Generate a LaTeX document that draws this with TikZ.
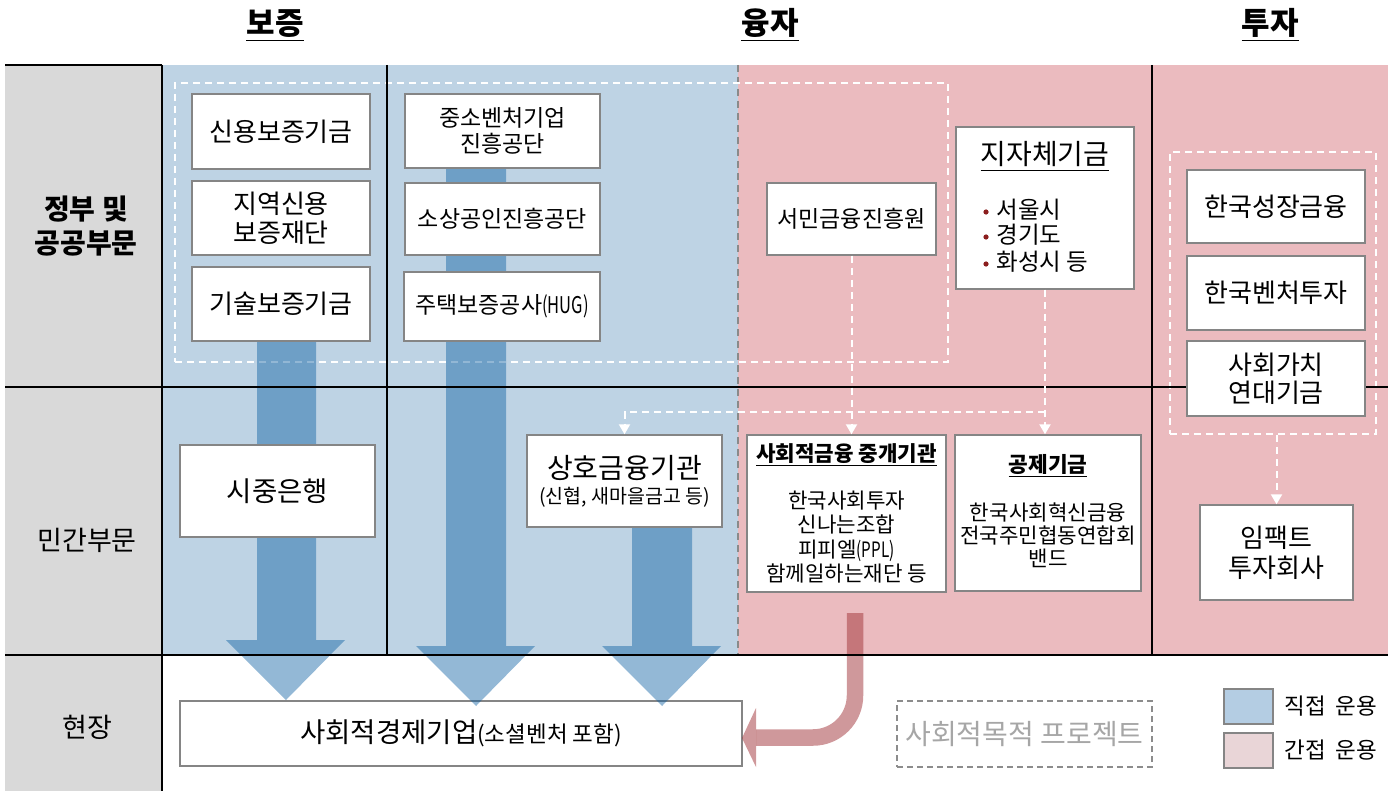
\documentclass[tikz,border=0pt]{standalone}
\usepackage{fontspec}
\newfontfamily\kr{Noto Sans CJK KR}
\usetikzlibrary{arrows.meta}
\definecolor{colgray}{HTML}{D9D9D9}
\definecolor{bluebg}{HTML}{BED3E4}
\definecolor{pinkbg}{HTML}{EBBBBF}
\definecolor{boxline}{HTML}{858585}
\definecolor{divline}{HTML}{8A8A8A}
\definecolor{bluearrow}{RGB}{8,93,161}
\definecolor{pinkarrow}{RGB}{160,50,55}
\definecolor{bulletred}{HTML}{8B1E1E}
\definecolor{legblue}{HTML}{B4CDE3}
\definecolor{legpink}{HTML}{E9D5D7}
\definecolor{projgray}{HTML}{A6A6A6}
\definecolor{projline}{HTML}{8C8C8C}
\newcommand\fs[2]{\fontsize{#1}{#2}\selectfont}
\newcommand\cnd[1]{\scalebox{0.72}[1]{#1}}
\begin{document}
\begin{tikzpicture}[x=0.5pt,y=-0.5pt,
  box/.style={draw=boxline, line width=0.7pt, fill=white, inner sep=0pt, align=center, font=\kr},
  lbl/.style={inner sep=0pt, align=center, font=\kr},
  wdash/.style={draw=white, line width=1pt, dash pattern=on 3.5pt off 2.5pt},
  wflow/.style={wdash, -{Triangle[width=5.5pt,length=5pt]}},
  rule/.style={draw=black, line width=1pt},
  barrow/.style={fill=bluearrow, fill opacity=0.44},
]
\useasboundingbox (0,0) rectangle (1396,791);
% backgrounds
\fill[colgray] (5,65) rectangle (162,791);
\fill[bluebg] (162,65) rectangle (738,655);
\fill[pinkbg] (738,65) rectangle (1388,655);
\draw[divline, line width=0.75pt, dash pattern=on 3.5pt off 2.5pt] (738,65) -- (738,655);
% group rectangles
\node[wdash, minimum width=386.5pt, minimum height=139.5pt, inner sep=0pt] (pubgrp) at (561.5,222.5) {};
\node[wdash, minimum width=103pt, minimum height=141pt, inner sep=0pt] (invgrp) at (1273,293) {};
% bottom enterprise box
\node[box, minimum width=281pt, minimum height=32.5pt] (se) at (461,733.5)
  {{\fs{13.75}{16}사회적경제기업}{\fs{11.25}{13}(소셜벤처 포함)}};
% blue arrows
\fill[barrow] (257,341) -- (316,341) -- (316,640) -- (345,640) -- (286,700) -- (226,640) -- (257,640) -- cycle;
\fill[barrow] (446,168) -- (506,168) -- (506,646) -- (535,646) -- (476,706) -- (416,646) -- (446,646) -- cycle;
\fill[barrow] (632,527) -- (692,527) -- (692,646) -- (721,646) -- (662,706) -- (602,646) -- (632,646) -- cycle;
% pink arrow
\draw[pinkarrow, draw opacity=0.5, line width=8.25pt, rounded corners=21pt] (855,613) |- (756,737.5);
\fill[pinkarrow, fill opacity=0.5] (756,708) -- (742,738) -- (756,767) -- cycle;
% rules
\draw[rule] (5,65) -- (162,65);
\draw[rule] (162,65) -- (162,791);
\draw[rule] (387,65) -- (387,655);
\draw[rule] (1152,65) -- (1152,655);
\draw[rule] (5,387) -- (1388,387);
\draw[rule] (5,655) -- (1388,655);
% headers
\node[lbl, anchor=base, font={\kr\bfseries\fs{15.5}{18}}] (h1) at (275,35) {\underline{보증}};
\node[lbl, anchor=base, font={\kr\bfseries\fs{15.5}{18}}] (h2) at (770,35) {\underline{융자}};
\node[lbl, anchor=base, font={\kr\bfseries\fs{15.5}{18}}] (h3) at (1270,35) {\underline{투자}};
% row labels
\node[lbl, font={\kr\bfseries\fs{14}{17}}] (r1) at (86,226) {정부 및\\공공부문};
\node[lbl, font={\kr\fs{13.5}{15}}] (r2) at (87,540) {민간부문};
\node[lbl, font={\kr\fs{13.5}{15}}] (r3) at (87,727) {현장};
% guarantee boxes
\node[box, minimum width=89pt, minimum height=37.5pt, font={\kr\fs{13}{15}}] (sinyong) at (281,131.5) {신용보증기금};
\node[box, minimum width=89pt, minimum height=37pt, font={\kr\fs{13}{14.5}}] (jiyeok) at (281,218) {지역신용\\보증재단};
\node[box, minimum width=89pt, minimum height=37pt, font={\kr\fs{13}{15}}] (gisul) at (281,304) {기술보증기금};
\node[box, minimum width=97.5pt, minimum height=37pt, font={\kr\fs{11.5}{13}}] (jungso) at (502.5,131) {중소벤처기업\\진흥공단};
\node[box, minimum width=97.5pt, minimum height=36pt, font={\kr\fs{11.5}{13}}] (sosang) at (502.5,219) {소상공인진흥공단};
\node[box, minimum width=98pt, minimum height=34.5pt, font={\kr\fs{11.5}{13}}] (hug) at (502,306.5) {주택보증공사\cnd{(HUG)}};
% loan boxes
\node[box, minimum width=84.5pt, minimum height=36pt, font={\kr\fs{11.5}{13}}] (seomin) at (851.5,219) {서민금융진흥원};
\node[box, minimum width=89pt, minimum height=81pt] (jijache) at (1045,208) {};
\node[lbl, anchor=base, font={\kr\fs{14}{16}}] (jjtitle) at (1045,165) {\underline{지자체기금}};
\fill[bulletred] (986,212) circle (1.3pt);
\fill[bulletred] (986,237) circle (1.3pt);
\fill[bulletred] (986,264) circle (1.3pt);
\node[lbl, anchor=west, font={\kr\fs{11.75}{13}}] (jj1) at (996,210) {서울시};
\node[lbl, anchor=west, font={\kr\fs{11.75}{13}}] (jj2) at (996,235) {경기도};
\node[lbl, anchor=west, font={\kr\fs{11.75}{13}}] (jj3) at (996,262) {화성시 등};
% investment boxes
\node[box, minimum width=89pt, minimum height=36.5pt, font={\kr\fs{13}{15}}] (kgf) at (1276,206.5) {한국성장금융};
\node[box, minimum width=89pt, minimum height=37pt, font={\kr\fs{13}{15}}] (kvic) at (1276,293) {한국벤처투자};
\node[box, minimum width=89pt, minimum height=37.5pt, font={\kr\fs{13}{14}}] (svf) at (1276,378.5) {사회가치\\연대기금};
% private boxes
\node[box, minimum width=97.5pt, minimum height=46pt, font={\kr\fs{13.75}{15}}] (bank) at (277.5,491) {시중은행};
\node[box, minimum width=97.5pt, minimum height=46pt] (sangho) at (624.5,481) {};
\node[lbl, font={\kr\fs{14}{16}}] (sangho1) at (624.5,468) {상호금융기관};
\node[lbl, font={\kr\fs{9.75}{11}}] (sangho2) at (624.5,497) {(신협, 새마을금고 등)};
\node[box, minimum width=99.5pt, minimum height=78.5pt] (social) at (846.5,513.5) {};
\node[lbl, anchor=base, font={\kr\bfseries\fs{10.6}{12}}] (socialt) at (846.5,461) {\underline{사회적금융 중개기관}};
\node[lbl, font={\kr\fs{10.6}{12.15}}] (socialb) at (846.5,537) {한국사회투자\\신나는조합\\피피엘\cnd{(PPL)}\\함께일하는재단 등};
\node[box, minimum width=93pt, minimum height=78pt] (gongje) at (1048,513) {};
\node[lbl, anchor=base, font={\kr\bfseries\fs{10.7}{12}}] (gongjet) at (1048,472) {\underline{공제기금}};
\node[lbl, font={\kr\fs{10.6}{11.5}}] (gongjeb) at (1048,535) {한국사회혁신금융\\전국주민협동연합회\\밴드};
\node[box, minimum width=76.5pt, minimum height=47.5pt, font={\kr\fs{13}{15}}] (impact) at (1276.5,552.5) {임팩트\\투자회사};
% project box and legend
\node[draw=projline, line width=0.75pt, dash pattern=on 3pt off 2pt, inner sep=0pt, minimum width=127.5pt, minimum height=33pt, text=projgray, font={\kr\fs{14}{16}}] (proj) at (1024.5,734) {사회적목적 프로젝트};
\node[draw=boxline, line width=0.7pt, fill=legblue, minimum width=24.5pt, minimum height=17.5pt, inner sep=0pt] (legb) at (1248.5,706.5) {};
\node[draw=boxline, line width=0.7pt, fill=legpink, minimum width=24.5pt, minimum height=17.5pt, inner sep=0pt] (legp) at (1248.5,750.5) {};
\node[lbl, anchor=west, font={\kr\fs{11.25}{13}}] (legbt) at (1284,706) {직접\hspace{0.45em}운용};
\node[lbl, anchor=west, font={\kr\fs{11.25}{13}}] (legpt) at (1284,750) {간접\hspace{0.45em}운용};
% dashed flows
\draw[wflow] (seomin.south) -- (seomin.south |- social.north);
\draw[wflow] (jijache.south) -- (jijache.south |- gongje.north);
\coordinate (br) at (1045,412);
\draw[wflow] (br) -| (sangho.north);
\draw[wflow] (invgrp.south -| impact.north) -- (impact.north);
\end{tikzpicture}
\end{document}
